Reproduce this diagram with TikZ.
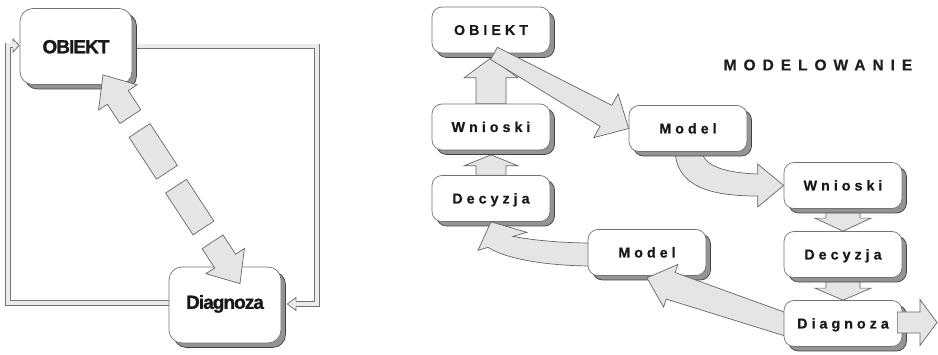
\documentclass[tikz,border=0pt]{standalone}
\usepackage{fontspec}
\setmainfont{Liberation Sans}
\newfontfamily\spacedfont[LetterSpace=28,FakeBold=0.6]{Liberation Sans}
\newfontfamily\titlefont[LetterSpace=45,FakeBold=0.4]{Liberation Sans}
\newfontfamily\tightfont[LetterSpace=-5,FakeBold=1.2]{Liberation Sans}
\usetikzlibrary{calc}

\pgfdeclarelayer{paper}
\pgfdeclarelayer{back}
\pgfdeclarelayer{lone}
\pgfdeclarelayer{ltwo}
\pgfdeclarelayer{lthree}
\pgfdeclarelayer{lfour}
\pgfdeclarelayer{front}
\pgfsetlayers{paper,back,main,lone,ltwo,lthree,lfour,front}

% frame (angle, length) of the segment between two named points
\makeatletter
\newcommand\faframe[2]{%
  \pgfmathanglebetweenpoints{\pgfpointanchor{#1}{center}}{\pgfpointanchor{#2}{center}}%
  \xdef\faAng{\pgfmathresult}%
  \pgfpointdiff{\pgfpointanchor{#1}{center}}{\pgfpointanchor{#2}{center}}%
  \xdef\faDx{\the\pgf@x}\xdef\faDy{\the\pgf@y}%
  \pgfmathveclen{\faDx}{\faDy}%
  \xdef\faLen{\pgfmathresult}%
}
\makeatother

% block arrow: [style]{from}{to}{tail half}{shaft half}{head half}{head length}
\newcommand\fatarrow[7][]{%
  \faframe{#2}{#3}%
  \draw[fat,#1,shift={(#2)},rotate=\faAng]
    (0,#4) -- ({\faLen-#7},#5) -- ({\faLen-#7},#6) -- (\faLen,0)
    -- ({\faLen-#7},-#6) -- ({\faLen-#7},-#5) -- (0,-#4) -- cycle;
}

\tikzset{
  fat/.style={draw=black!60, fill=black!10, line width=0.7pt, line join=miter},
  boxbase/.style={draw=black!55, line width=0.7pt, fill=white, text=black!90,
    preaction={fill=black!42, draw=black!75, line width=0.7pt,
      transform canvas={shift={(4.5pt,-4.5pt)}}}},
  bigbox/.style={boxbase, rounded corners=13pt, minimum width=112pt, minimum height=76pt,
    font=\tightfont\bfseries\fontsize{19}{22}\selectfont, text height=13.6pt, text depth=0pt},
  smallbox/.style={boxbase, rounded corners=10pt, minimum width=118pt, minimum height=46pt,
    font=\spacedfont\bfseries\fontsize{14.3}{16}\selectfont, text height=10pt, text depth=0pt},
  hollow/.style={draw=black!55, line width=0.8pt, double=black!8, double distance=4pt},
  hollowhead/.style={draw=black!55, fill=black!8, line width=0.8pt, line join=miter},
}

\begin{document}
\begin{tikzpicture}[x=1pt, y=-1pt]
\useasboundingbox (0,0) rectangle (938,355);
\begin{pgfonlayer}{paper}
  \fill[white] (0,0) rectangle (938,355);
\end{pgfonlayer}

% ---------- left diagram: object and diagnosis ----------
\node[bigbox] (obiL) at (76,46.5) {OBIEKT};
\node[bigbox, text depth=6pt] (diaL) at (225,305) {Diagnoza};

\begin{pgfonlayer}{back}
  % outer feedback loop, OBIEKT -> Diagnoza
  \draw[hollow] ($(obiL.east)+(-5,0)$) -| (317,304) -- (296,304);
  \filldraw[hollowhead] (296,301) -- (296,297.5) -- ($(diaL.east)+(6,-1)$) -- (296,310.5) -- (296,307);
  % outer feedback loop, Diagnoza -> OBIEKT
  \draw[hollow] ($(diaL.west)+(5,-2)$) -| (8,45.5) -- (13,45.5);
  \filldraw[hollowhead] (13,42.5) -- (13,39) -- ($(obiL.west)+(-0.5,-1)$) -- (13,52) -- (13,48.5);
\end{pgfonlayer}

% dashed two-headed arrow between OBIEKT and Diagnoza
\coordinate (dTop) at ($(obiL.south)+(27,-10)$);
\coordinate (dBot) at ($(diaL.north)+(15,17)$);
\begin{pgfonlayer}{front}
  \faframe{dTop}{dBot}
  \pgfmathsetmacro\dgap{(\faLen-200)/3}
  \begin{scope}[shift={(dTop)}, rotate=\faAng]
    \draw[fat] (0,0) -- (27,23) -- (27,12.5) -- (50,12.5) -- (50,-12.5) -- (27,-12.5) -- (27,-23) -- cycle;
    \draw[fat] ({50+\dgap},12.5) -- ({100+\dgap},12.5) -- ({100+\dgap},-12.5) -- ({50+\dgap},-12.5) -- cycle;
    \draw[fat] ({100+2*\dgap},12.5) -- ({150+2*\dgap},12.5) -- ({150+2*\dgap},-12.5) -- ({100+2*\dgap},-12.5) -- cycle;
    \draw[fat] ({\faLen-50},12.5) -- ({\faLen-27},12.5) -- ({\faLen-27},23) -- (\faLen,0)
      -- ({\faLen-27},-23) -- ({\faLen-27},-12.5) -- ({\faLen-50},-12.5) -- cycle;
  \end{scope}
\end{pgfonlayer}

% ---------- right diagram: modelling ----------
\node[font=\titlefont\bfseries\fontsize{15.5}{18}\selectfont, text=black!88] (title) at (818,65) {MODELOWANIE};

\node[smallbox] (obiR) at (491,30) {OBIEKT};
\node[smallbox] (wniL) at (491,127) {Wnioski};
\node[smallbox] (decL) at (491,198.5) {Decyzja};
\node[smallbox] (modU) at (688,128.5) {Model};
\node[smallbox] (wniR) at (843,185.5) {Wnioski};
\node[smallbox] (decR) at (843,254.5) {Decyzja};
\begin{pgfonlayer}{ltwo}
  \node[smallbox] (modL) at (647,252.5) {Model};
\end{pgfonlayer}
\begin{pgfonlayer}{lfour}
  \node[smallbox] (diaR) at (843,323.5) {Diagnoza};
\end{pgfonlayer}

% arrows behind the boxes
\coordinate (v1s) at (wniL.north);
\coordinate (v1e) at ($(obiR.south)+(0,4.5)$);
\coordinate (v2s) at (decL.north);
\coordinate (v2e) at ($(wniL.south)+(0,4.5)$);
\coordinate (v3s) at (wniR.south);
\coordinate (v3e) at (decR.north);
\coordinate (v4s) at (decR.south);
\coordinate (v4e) at (diaR.north);
\begin{pgfonlayer}{back}
  \fatarrow{v1s}{v1e}{15}{15}{27}{20}
  \fatarrow{v2s}{v2e}{15}{15}{27}{11}
  \fatarrow{v3s}{v3e}{17}{17}{28}{13}
  \fatarrow{v4s}{v4e}{17}{17}{28}{12}
  % Model -> Wnioski, bent arrow
  \draw[fat] ($(modU.south)+(-13,-2)$) .. controls +(1,37) and +(-47,0) .. ($(wniR.west)+(-26,10.5)$)
    -- ++(0,11) -- (wniR.west) -- ($(wniR.west)+(-26,-21.5)$) -- ++(0,10)
    .. controls +(-32,-1) and +(0,16) .. ($(modU.south)+(14,-2)$) -- cycle;
\end{pgfonlayer}

% Model -> Decyzja, bent arrow
\begin{pgfonlayer}{lone}
  \draw[fat] ($(modL.west)+(5,-9.5)$) .. controls +(-30,0) and +(20,4) .. ($(decL.south)+(22,14.5)$)
    -- ++(14,-4) -- (decL.south) -- ($(decL.south)+(-13,28.5)$) -- ++(10,-3)
    .. controls +(22,14) and +(-35,0) .. ($(modL.west)+(5,13.5)$) -- cycle;
\end{pgfonlayer}

% Diagnoza -> Model
\coordinate (dmS) at ($(diaR.west)+(8,3)$);
\coordinate (dmE) at ($(modL.south)+(0,2)$);
\begin{pgfonlayer}{lthree}
  \fatarrow{dmS}{dmE}{11}{14}{22.5}{25}
\end{pgfonlayer}

% arrows on top
\coordinate (omS) at ($(obiR.south)+(3,0)$);
\coordinate (omE) at (modU.west);
\coordinate (exS) at ($(diaR.east)+(-5,-1)$);
\coordinate (exE) at (937,322.5);
\begin{pgfonlayer}{front}
  \fatarrow{omS}{omE}{7}{12}{25}{26}
  \fatarrow{exS}{exE}{10.5}{10.5}{23}{17}
\end{pgfonlayer}
\end{tikzpicture}
\end{document}
